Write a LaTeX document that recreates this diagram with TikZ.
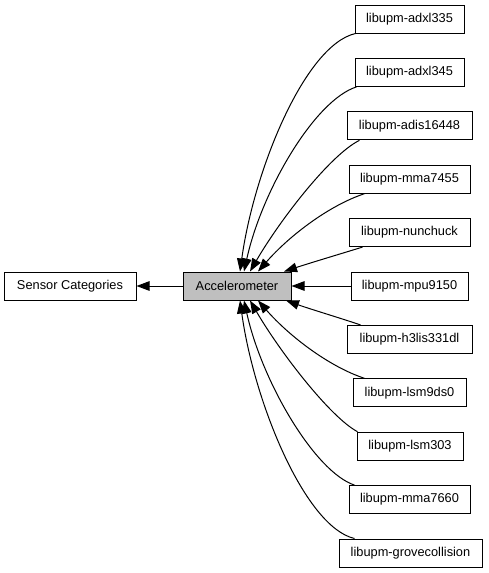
\documentclass[tikz,border=0pt]{standalone}
\usepackage{fontspec}
\setmainfont{Liberation Sans}
\usetikzlibrary{calc,arrows.meta}
\tikzset{
  grp/.style={draw, fill=white, line width=1pt, minimum height=28pt, inner sep=2pt,
    font=\fontsize{12.8}{14}\selectfont},
  curgrp/.style={grp, fill=black!25},
  edge/.style={line width=1pt, -{Triangle[length=13pt,width=9.5pt]}}
}
\begin{document}
\begin{tikzpicture}[x=1pt,y=-1pt]
  \useasboundingbox (0,0) rectangle (488,573);
  \node[grp, minimum width=132pt] (sensorcat) at (70,286) {Sensor Categories};
  \node[curgrp, minimum width=108pt] (accel) at (237,286) {Accelerometer};
  \draw[edge] (accel.west) -- (sensorcat.east);
  % modules on the right
  \node[grp, minimum width=109pt] (adxl335) at (409.5,19) {libupm-adxl335};
  \node[grp, minimum width=109pt] (adxl345) at (409.5,72.4) {libupm-adxl345};
  \node[grp, minimum width=125pt] (adis16448) at (409.5,125.8) {libupm-adis16448};
  \node[grp, minimum width=121pt] (mma7455) at (409.5,179.2) {libupm-mma7455};
  \node[grp, minimum width=121pt] (nunchuck) at (409.5,232.6) {libupm-nunchuck};
  \node[grp, minimum width=117pt] (mpu9150) at (409.5,286) {libupm-mpu9150};
  \node[grp, minimum width=125pt] (h3lis331dl) at (409.5,339.4) {libupm-h3lis331dl};
  \node[grp, minimum width=113pt] (lsm9ds0) at (409.5,392.8) {libupm-lsm9ds0};
  \node[grp, minimum width=106pt] (lsm303) at (410,446.2) {libupm-lsm303};
  \node[grp, minimum width=121pt] (mma7660) at (409.5,499.6) {libupm-mma7660};
  \node[grp, minimum width=143pt] (grovecoll) at (410.5,553) {libupm-grovecollision};
  % edges into the group
  \draw[edge] ([xshift=1pt]adxl335.south west) .. controls (305,45) and (254,170) .. ([xshift=3pt]accel.north);
  \draw[edge] ([xshift=2pt]adxl345.south west) .. controls (315,100) and (262,190) .. ([xshift=7pt]accel.north);
  \draw[edge] ([xshift=13pt]adis16448.south west) .. controls (330,155) and (280,220) .. ([xshift=13pt]accel.north);
  \draw[edge] ([xshift=16pt]mma7455.south west) .. controls (330,205) and (290,235) .. ([xshift=21pt]accel.north);
  \draw[edge] ([xshift=14pt]nunchuck.south west) .. controls (340,254) and (310,263) .. ([xshift=47pt]accel.north);
  \draw[edge] (mpu9150.west) -- (accel.east);
  \draw[edge] ([xshift=14pt]h3lis331dl.north west) .. controls (340,318) and (310,309) .. ([xshift=49pt]accel.south);
  \draw[edge] ([xshift=12pt]lsm9ds0.north west) .. controls (330,367) and (290,337) .. ([xshift=21pt]accel.south);
  \draw[edge] ([xshift=1pt]lsm303.north west) .. controls (330,417) and (280,352) .. ([xshift=13pt]accel.south);
  \draw[edge] ([xshift=6pt]mma7660.north west) .. controls (315,472) and (262,382) .. ([xshift=7pt]accel.south);
  \draw[edge] ([xshift=16pt]grovecoll.north west) .. controls (305,527) and (254,402) .. ([xshift=3pt]accel.south);
\end{tikzpicture}
\end{document}
